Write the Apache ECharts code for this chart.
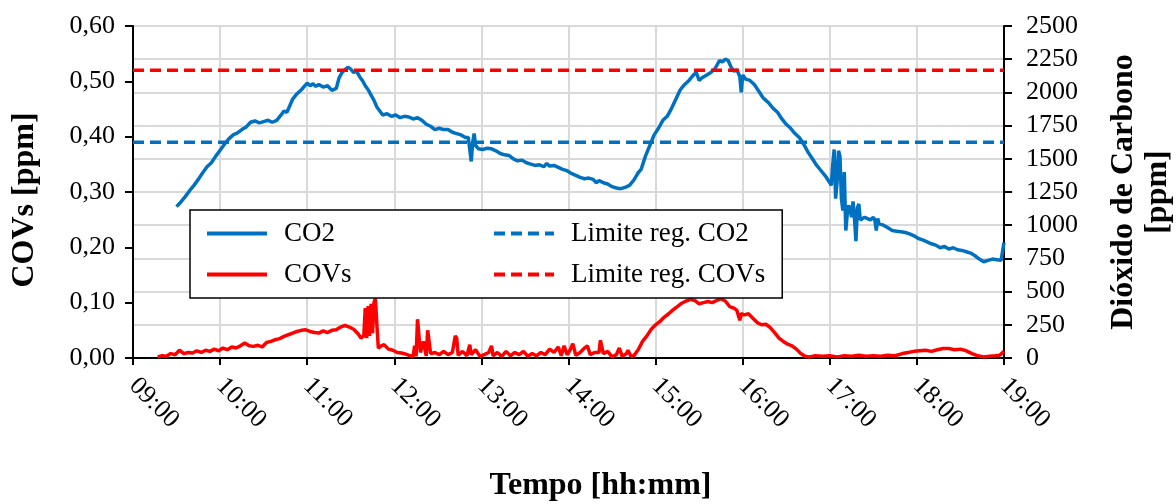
<!DOCTYPE html>
<html>
<head>
<meta charset="utf-8">
<script src="https://cdn.jsdelivr.net/npm/echarts@6/dist/echarts.min.js"></script>
<style>html,body{margin:0;padding:0;background:#fff}#c{width:1176px;height:504px}</style>
</head>
<body>
<div id="c"></div>
<script>
// minutes after 09:00
var co2Time = [30,33,36,39,42,45,48,51,54,57,60,63,66,69,72,75,78,81,84,87,90,93,96,99,102,104,106,108,110,113,116,118,120,122,124,126,128,131,134,137,140,142,144,146,148,150,152,154,156,158,160,162,164,166,168,170,172,175,178,181,184,187,190,193,196,199,202,205,208,211,214,217,220,223,226,229,231,233,234,235,236,238,241,244,247,250,253,256,259,262,265,268,271,274,277,280,283,285,287,290,293,296,299,302,305,308,311,314,317,319,321,324,327,330,333,336,339,342,345,348,350,353,356,359,362,365,368,371,374,377,380,383,386,388,390,392,395,398,401,404,406,408,410,412,414,416,418,419,420,422,425,428,431,434,436,438,441,444,447,450,453,456,459,462,465,468,471,474,477,480,481,482,483,484,485,486,487,488,489,490,491,492,493,494,495,496,497,498,499,500,501,502,504,506,508,510,511,512,513,514,517,520,523,526,529,532,535,538,541,544,547,550,553,556,559,562,565,568,571,574,577,580,583,586,589,592,595,598,599,600];
var co2Values = [1140,1175,1215,1260,1300,1345,1395,1440,1470,1520,1565,1610,1650,1680,1695,1720,1740,1775,1785,1770,1780,1790,1775,1790,1830,1860,1850,1900,1950,1990,2020,2045,2070,2050,2065,2045,2060,2040,2050,2015,2030,2110,2150,2170,2190,2175,2150,2160,2120,2090,2050,2020,1980,1940,1890,1860,1830,1840,1820,1830,1810,1820,1815,1800,1810,1790,1760,1745,1720,1730,1720,1720,1700,1690,1680,1660,1660,1480,1620,1690,1600,1575,1570,1580,1575,1560,1540,1530,1525,1500,1485,1490,1470,1460,1450,1455,1440,1465,1445,1450,1435,1420,1410,1390,1375,1360,1350,1355,1345,1320,1335,1320,1310,1290,1280,1275,1285,1300,1340,1395,1420,1520,1600,1680,1730,1790,1820,1880,1950,2020,2060,2090,2130,2150,2090,2110,2130,2150,2180,2240,2230,2250,2240,2190,2160,2170,2120,2000,2130,2100,2090,2060,2010,1960,1940,1920,1880,1850,1800,1760,1730,1690,1660,1610,1550,1500,1450,1410,1370,1320,1300,1450,1570,1200,1320,1560,1520,1200,1110,1400,960,1080,1150,1120,1060,1180,1050,880,1130,1160,1040,1040,1060,1050,1040,1060,1040,960,1050,1010,1000,980,960,955,950,945,935,920,900,890,875,860,850,830,840,820,830,815,810,800,790,770,745,725,735,745,740,735,740,870];
var covTime = [17,20,23,26,29,32,35,38,41,44,47,50,53,56,59,62,65,68,71,74,77,80,83,86,89,92,95,98,101,104,107,110,113,116,119,122,125,128,131,134,137,140,143,146,149,152,155,157,159,160,161,162,163,164,165,166,167,168,169,171,173,176,179,182,185,188,191,193,194,195,196,197,198,200,202,203,204,205,208,211,214,217,220,222,223,224,227,230,232,233,236,239,242,245,247,248,251,254,257,260,263,266,269,272,275,278,281,284,287,290,293,295,297,299,301,303,305,308,311,313,315,318,321,322,324,327,330,333,335,337,340,341,343,345,348,351,354,357,360,363,366,369,372,375,378,381,384,387,390,393,396,399,402,405,408,411,414,416,418,419,421,424,427,430,433,436,439,442,445,448,451,454,457,460,463,466,470,475,480,485,490,495,500,505,510,515,520,525,530,534,538,542,546,550,554,558,562,566,570,574,578,582,586,590,594,597,600];
var covValues = [0.002,0.004,0.003,0.008,0.006,0.014,0.008,0.010,0.009,0.013,0.010,0.014,0.012,0.016,0.013,0.018,0.015,0.020,0.018,0.022,0.027,0.022,0.021,0.023,0.020,0.028,0.030,0.033,0.035,0.039,0.042,0.045,0.048,0.050,0.051,0.048,0.046,0.045,0.049,0.046,0.050,0.051,0.056,0.059,0.056,0.052,0.044,0.036,0.040,0.090,0.036,0.094,0.040,0.098,0.045,0.100,0.108,0.060,0.018,0.022,0.024,0.016,0.014,0.010,0.009,0.007,0.004,0.003,0.022,0.003,0.070,0.072,0.010,0.030,0.004,0.050,0.052,0.008,0.010,0.006,0.012,0.006,0.010,0.040,0.036,0.005,0.012,0.004,0.024,0.006,0.015,0.003,0.006,0.010,0.022,0.004,0.010,0.003,0.012,0.004,0.010,0.006,0.012,0.003,0.008,0.004,0.010,0.006,0.016,0.010,0.020,0.004,0.022,0.006,0.014,0.026,0.005,0.010,0.018,0.022,0.006,0.010,0.010,0.032,0.008,0.012,0.002,0.006,0.018,0.003,0.008,0.014,0.003,0.004,0.015,0.030,0.040,0.052,0.060,0.066,0.074,0.080,0.087,0.093,0.099,0.103,0.106,0.104,0.098,0.100,0.102,0.100,0.104,0.107,0.103,0.093,0.090,0.086,0.068,0.080,0.078,0.080,0.072,0.064,0.060,0.061,0.055,0.046,0.036,0.030,0.025,0.022,0.016,0.008,0.003,0.002,0.004,0.003,0.004,0.002,0.004,0.003,0.005,0.003,0.004,0.003,0.005,0.004,0.008,0.010,0.012,0.013,0.014,0.012,0.015,0.017,0.017,0.015,0.016,0.013,0.008,0.004,0.002,0.003,0.004,0.005,0.012];
var limitTime = [0, 600];
var limitCO2 = [1625, 1625];
var limitCOV = [0.52, 0.52];
var xTicks = ['09:00','10:00','11:00','12:00','13:00','14:00','15:00','16:00','17:00','18:00','19:00'];

function pairs(a, b) { return a.map(function (t, i) { return [t, b[i]]; }); }

var FONT = 'Liberation Serif';
var chart = echarts.init(document.getElementById('c'));
chart.setOption({
  animation: false,
  textStyle: { fontFamily: FONT, color: '#000' },
  grid: { left: 133, right: 172, top: 26, bottom: 146, outerBoundsMode: 'none', containLabel: false,
    show: true, borderColor: '#000', borderWidth: 1.5, backgroundColor: 'transparent' },
  legend: {
    data: ['CO2', 'Limite reg. CO2', 'COVs', 'Limite reg. COVs'],
    left: 190, top: 210, width: 600,
    orient: 'horizontal',
    itemWidth: 60, itemHeight: 14, itemGap: 14,
    padding: [10, 17, 10, 15],
    borderColor: '#000', borderWidth: 1.5, backgroundColor: '#fff',
    itemStyle: { color: 'rgba(0,0,0,0)', borderColor: 'rgba(0,0,0,0)', borderWidth: 0, opacity: 0 },
    lineStyle: { width: 4 },
    textStyle: { fontFamily: FONT, fontSize: 27, color: '#000', width: 194, height: 19, lineHeight: 19, padding: [0, 0, 0, 12] }
  },
  xAxis: {
    type: 'value', min: 0, max: 600, interval: 60,
    name: 'Tempo [hh:mm]', nameLocation: 'middle', nameGap: 112,
    nameTextStyle: { fontFamily: FONT, fontSize: 32, fontWeight: 'bold', color: '#000', padding: [0, 0, 0, 64] },
    axisLine: { show: true, lineStyle: { color: '#000', width: 2 } },
    axisTick: { show: true, length: 7, lineStyle: { color: '#000', width: 2 } },
    axisLabel: { rotate: -45, fontSize: 26, color: '#000', margin: 24, fontFamily: FONT,
      formatter: function (v) { return xTicks[Math.round(v / 60)]; } },
    splitLine: { show: true, lineStyle: { color: '#d9d9d9', width: 2 } }
  },
  yAxis: [{
    type: 'value', min: 0, max: 0.6, interval: 0.1, position: 'left',
    name: 'COVs [ppm]', nameLocation: 'middle', nameGap: 92, nameRotate: 90,
    nameTextStyle: { fontFamily: FONT, fontSize: 32, fontWeight: 'bold', color: '#000', padding: [0, 16, 0, 0] },
    axisLine: { show: true, lineStyle: { color: '#000', width: 2 } },
    axisTick: { show: true, length: 8, lineStyle: { color: '#000', width: 2 } },
    axisLabel: { fontSize: 26, color: '#000', margin: 18, fontFamily: FONT,
      formatter: function (v) { return v.toFixed(2).replace('.', ','); } },
    splitLine: { show: false }
  }, {
    type: 'value', min: 0, max: 2500, interval: 250, position: 'right',
    name: 'Dióxido de Carbono\n[ppm]', nameLocation: 'middle', nameGap: 103, nameRotate: 90,
    nameTextStyle: { fontFamily: FONT, fontSize: 32, fontWeight: 'bold', color: '#000', lineHeight: 34, align: 'center' },
    axisLine: { show: true, lineStyle: { color: '#000', width: 2 } },
    axisTick: { show: true, inside: false, length: 8, lineStyle: { color: '#000', width: 2 } },
    axisLabel: { fontSize: 26, color: '#000', margin: 22, fontFamily: FONT,
      formatter: function (v) { return String(v); } },
    splitLine: { show: true, lineStyle: { color: '#d9d9d9', width: 2 } }
  }],
  series: [{
    name: 'CO2', type: 'line', yAxisIndex: 1, showSymbol: false, symbol: 'none',
    data: pairs(co2Time, co2Values), lineStyle: { color: '#0070C0', width: 3.5 }, itemStyle: { color: '#0070C0' }
  }, {
    name: 'Limite reg. CO2', type: 'line', yAxisIndex: 1, showSymbol: false, symbol: 'none',
    data: pairs(limitTime, limitCO2), lineStyle: { color: '#0070C0', width: 3.5, type: [11, 6] }, itemStyle: { color: '#0070C0' }
  }, {
    name: 'COVs', type: 'line', yAxisIndex: 0, showSymbol: false, symbol: 'none',
    data: pairs(covTime, covValues), lineStyle: { color: '#FF0000', width: 3.5 }, itemStyle: { color: '#FF0000' }
  }, {
    name: 'Limite reg. COVs', type: 'line', yAxisIndex: 0, showSymbol: false, symbol: 'none',
    data: pairs(limitTime, limitCOV), lineStyle: { color: '#FF0000', width: 3.5, type: [11, 6] }, itemStyle: { color: '#FF0000' }
  }]
});
</script>
</body>
</html>
